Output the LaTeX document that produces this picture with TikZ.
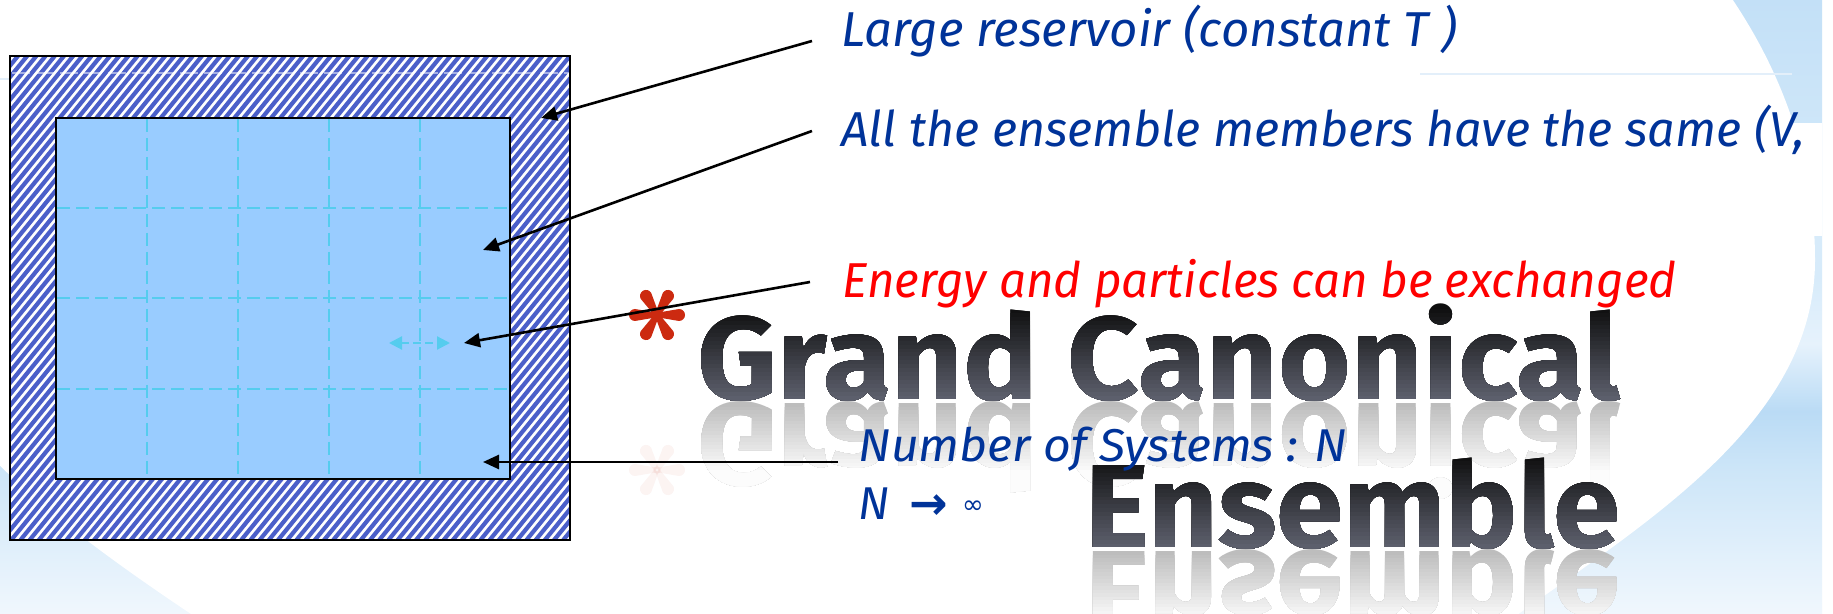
\documentclass[tikz,border=0pt]{standalone}
\usepackage{fontspec}
\setmainfont{Fira Sans}
\newfontfamily\symfont{DejaVu Sans}
\usetikzlibrary{arrows.meta}

\definecolor{hatchblue}{HTML}{4B5FC9}
\definecolor{cellblue}{HTML}{99CCFF}
\definecolor{gridcyan}{HTML}{55CCEE}
\definecolor{labelblue}{HTML}{003399}
\definecolor{labelred}{HTML}{FF0000}
\definecolor{starred}{HTML}{CC2A10}
\definecolor{ttop}{HTML}{0E0E0E}
\definecolor{tbot}{HTML}{5C5F6C}
\definecolor{refgray}{HTML}{BDBDBD}
\definecolor{bgA}{HTML}{C3E0F7}
\definecolor{bgB}{HTML}{D7EBFA}
\definecolor{bgC}{HTML}{E6F2FC}
\definecolor{bgD}{HTML}{BADBF5}
\definecolor{bgE}{HTML}{CCE5F8}
\definecolor{bgF}{HTML}{F0F7FD}
\definecolor{faintline}{HTML}{E3EFFA}

% soft blue backdrop, darker band in the lower half
\pgfdeclareverticalshading{bgshade}{100bp}{%
  color(0bp)=(bgF); color(25bp)=(bgF); color(37bp)=(bgE); color(41.5bp)=(bgD);
  color(47bp)=(bgC); color(52.5bp)=(bgB); color(56bp)=(bgB); color(75bp)=(bgA);
  color(100bp)=(bgA)}

\tikzset{
  pointer/.style={draw=black, line width=1.3pt, -{Triangle[length=8pt,width=7pt]}},
  exchangearrow/.style={draw=gridcyan, line width=1.1pt, dash pattern=on 4pt off 2pt,
    {Triangle[length=6.5pt,width=6.5pt]}-{Triangle[length=6.5pt,width=6.5pt]}},
  cellgrid/.style={draw=gridcyan, line width=1pt, dash pattern=on 6.5pt off 3pt},
  hatchline/.style={draw=hatchblue, line width=2.1pt},
  notetext/.style={anchor=base west, inner sep=0pt, text=labelblue,
    font=\fontsize{24.5}{28}\selectfont\itshape},
  titlefont/.style={anchor=base east, inner sep=0pt,
    font=\fontsize{59}{62}\selectfont\bfseries},
}

% title line with a dark-to-grey vertical gradient, built from clipped bands;
% each band reaches down to the bottom so later bands simply paint over it
% #1 name, #2 right x, #3 baseline y, #4 width, #5 top y, #6 text
\newcommand\gradtitle[6]{%
  \node[titlefont, text=ttop] (#1) at (#2,#3) {\resizebox{#4}{\height}{#6}};
  \foreach \i in {1,...,23}{%
    \pgfmathsetmacro\ya{#5+(#3-#5)*\i/24}%
    \pgfmathtruncatemacro\mx{round(100*\i/23)}%
    \begin{scope}
      \clip (600,\ya) rectangle (1700,700);
      \node[titlefont, text=tbot!\mx!ttop] (#1-\i) at (#2,#3)
        {\resizebox{#4}{\height}{#6}};
    \end{scope}}}

% mirrored, fading copy below a title line
% #1 name, #2 right x, #3 mirror y, #4 width, #5 text
\newcommand\titlereflect[5]{%
  \node[titlefont, text=refgray] (#1) at (#2,#3)
    {\scalebox{1}[-1]{\resizebox{#4}{\height}{#5}}};
  \foreach \i in {1,...,19}{%
    \pgfmathsetmacro\ya{#3+3.5*\i}%
    \pgfmathtruncatemacro\mx{round(100*(1-\i/20))}%
    \begin{scope}
      \clip (600,\ya) rectangle (1700,700);
      \node[titlefont, text=refgray!\mx!white] (#1-\i) at (#2,#3)
        {\scalebox{1}[-1]{\resizebox{#4}{\height}{#5}}};
    \end{scope}}}

% six-petal asterisk; #1 x, #2 y, #3 opacity
\newcommand\petalstar[3]{%
  \begin{scope}[shift={(#1,#2)}, x=0.5pt, y=0.5pt]
    \foreach \a in {0,60,...,300}{%
      \fill[starred, opacity=#3, rotate=\a]
        (1,-2.4) -- (22,-6) arc[start angle=-90, end angle=90, radius=6] -- (1,2.4) -- cycle;}
    \fill[starred, opacity=#3] (0,0) circle (3.8);
  \end{scope}}

\begin{document}
\begin{tikzpicture}[x=0.5pt, y=-0.5pt]
\useasboundingbox (0,0) rectangle (1833,614);
\fill[white] (0,0) rectangle (1833,614);

% backdrop: blue sweep around a large white oval
\begin{scope}
  \clip (0,0) rectangle (1822,614);
  \shade[shading=bgshade] (0,0) rectangle (1822,614);
  \fill[white] (-10,-10) -- (1726,-10)
     .. controls (1775,60) and (1815,150) .. (1815,260)
     .. controls (1815,420) and (1650,520) .. (1510,620)
     -- (200,620) .. controls (140,580) and (45,515) .. (-10,455) -- cycle;
  \fill[white] (1790,123) rectangle (1822,236);
\end{scope}
\draw[faintline, line width=1.2pt] (1420,74) -- (1792,74);
\draw[faintline, line width=1.2pt] (0,79) -- (10,79);

% reservoir: hatched frame
\begin{scope}
  \clip (10,56) rectangle (570,540);
  \fill[white] (10,56) rectangle (570,540);
  \foreach \k in {0,...,107}{%
    \draw[hatchline] ({-400+9.2*\k},548) -- ++(406,-500);}
  \draw[white, opacity=0.5, line width=0.9pt, dash pattern=on 9pt off 3pt] (12,73) -- (568,73);
\end{scope}
\node[draw=black, line width=1.1pt, minimum width=280pt, minimum height=242pt,
      inner sep=0pt] (res) at (290,298) {};

% ensemble of systems
\node[fill=cellblue, draw=black, line width=1.3pt, minimum width=227pt,
      minimum height=180.5pt, inner sep=0pt] (sys) at (283,298.5) {};
\foreach \gx in {147,238,329,420}{\draw[cellgrid] (\gx,119) -- (\gx,478);}
\foreach \gy in {208,298,389}{\draw[cellgrid] (57,\gy) -- (509,\gy);}

\coordinate (ex-l) at (389,343);
\coordinate (ex-r) at (450,343);
\draw[exchangearrow] (ex-l) -- (ex-r);

% reflections of the title
\titlereflect{gcr}{1621}{404}{461.5pt}{Grand Canonical}
\titlereflect{enr}{1621}{552}{267.5pt}{Ensemble}
\petalstar{657}{470}{0.05}

% title
\petalstar{657}{315}{1}
\gradtitle{gc}{1621}{400}{461.5pt}{306}{Grand Canonical}
\gradtitle{en}{1621}{548}{267.5pt}{454}{Ensemble}

% annotations
\node[notetext] (t1) at (841,47) {\resizebox{308pt}{\height}{Large reservoir (constant T )}};
\node[notetext] (t2) at (841,147) {\resizebox{482pt}{\height}{All the ensemble members have the same (V,}};
\node[notetext, text=labelred] (t3) at (842,298) {\resizebox{417pt}{\height}{Energy and particles can be exchanged}};
\node[notetext, font=\fontsize{23}{27}\selectfont\itshape] (t4) at (858,462)
  {\resizebox{244.5pt}{\height}{Number of Systems : N}};
\node[notetext, font=\fontsize{23}{27}\selectfont\itshape] (t5) at (858,520)
  {N\hspace{10pt}{\symfont\bfseries →}\hspace{7pt}\raisebox{3pt}{\symfont\fontsize{13}{13}\selectfont ∞}};

% pointers
\coordinate (p1s) at (812,41);  \coordinate (p1e) at (541,118);
\coordinate (p2s) at (812,131); \coordinate (p2e) at (483,250);
\coordinate (p3s) at (810,282); \coordinate (p3e) at (464,343);
\coordinate (p4s) at (838,462); \coordinate (p4e) at (483,462);
\draw[pointer] (p1s) -- (p1e);
\draw[pointer] (p2s) -- (p2e);
\draw[pointer] (p3s) -- (p3e);
\draw[pointer] (p4s) -- (p4e);
\end{tikzpicture}
\end{document}
